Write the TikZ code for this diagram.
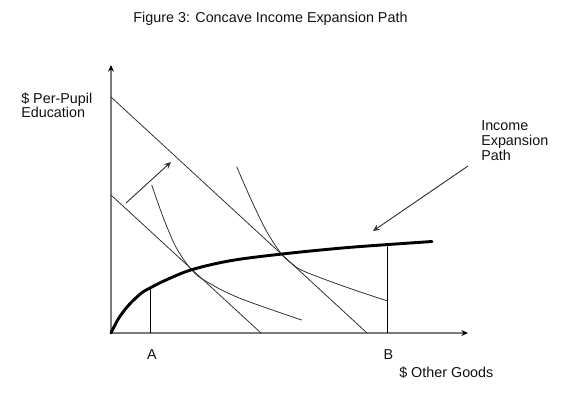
\documentclass[tikz,border=0pt]{standalone}
\usepackage{fontspec}
\setmainfont{Liberation Sans}
\usetikzlibrary{arrows.meta}
\definecolor{Ink}{HTML}{111111}
\definecolor{Axis}{HTML}{7A7A7A}
\definecolor{Guide}{HTML}{333333}

\begin{document}
\begin{tikzpicture}[x=0.2646mm,y=0.2646mm,>={Stealth[length=5pt,width=4.5pt]},
  lbl/.style={font=\fontsize{10.8}{10.5}\selectfont,inner sep=0pt,text=Ink},
  axisline/.style={Axis,line width=1.5pt,-{Stealth[length=5pt,width=4.5pt,color=black]}},
  budget/.style={Guide,line width=0.6pt},
  indiff/.style={Guide,line width=0.6pt},
  expath/.style={black,line width=2.2pt,line cap=round},
  marker/.style={black,line width=0.75pt},
  pointer/.style={->,Guide,line width=0.7pt}]
\useasboundingbox (-111,-77) rectangle (466,333);
% title and axis labels
\node[lbl,anchor=base] (title) at (159.5,310.3) {Figure 3: Concave Income Expansion Path};
\node[lbl,anchor=north west,align=left] (ylabel) at (-90,240.5) {\$ Per-Pupil\\Education};
\node[lbl,anchor=base west] (xlabel) at (288,-44.3) {\$ Other Goods};
\node[lbl,anchor=north west,align=left,font=\fontsize{10.8}{11.6}\selectfont] (pathlabel) at (370,213) {Income\\Expansion\\Path};
% axes
\coordinate (O) at (0,0);
\coordinate (ytip) at (0,268);
\coordinate (xtip) at (357,0);
\draw[axisline] (O) -- (ytip);
\draw[axisline] (O) -- (xtip);
% budget lines
\coordinate (b1top) at (0,138);
\coordinate (b1end) at (150,0);
\coordinate (b2top) at (0,236);
\coordinate (b2end) at (256,0);
\draw[budget] (b1top) -- (b1end);
\draw[budget] (b2top) -- (b2end);
% indifference curves
\draw[indiff] plot[smooth,tension=0.6] coordinates {(40.7,148) (48,127) (56,106) (66,84) (80.7,63) (95.7,51.3) (129,34.7) (190.7,13)};
\draw[indiff] plot[smooth,tension=0.6] coordinates {(125.7,166.3) (134,147) (144,125) (156,101) (170.7,78.7) (182,68.5) (194,61.3) (234,46.3) (275.7,32.3)};
% income expansion path
\draw[expath] plot[smooth,tension=0.55] coordinates {(0,0) (8,15.2) (18,28.2) (30,39.6) (39,45) (55,53) (81,63.4) (120,72.4) (171,79) (230,84.9) (276,88.4) (321,91.5)};
% A and B
\coordinate (Afoot) at (39,0);
\coordinate (Atop) at (39,45);
\coordinate (Bfoot) at (276,0);
\coordinate (Btop) at (276,88.4);
\draw[marker] (Afoot) -- (Atop);
\draw[marker] (Bfoot) -- (Btop);
\node[lbl,anchor=base] (A) at (41,-26.3) {A};
\node[lbl,anchor=base] (B) at (277.3,-26.3) {B};
% arrows
\coordinate (shiftfrom) at (15,130);
\coordinate (shiftto) at (60,171);
\draw[pointer] (shiftfrom) -- (shiftto);
\coordinate (pathfrom) at (357,167);
\coordinate (pathto) at (262,102);
\draw[pointer] (pathfrom) -- (pathto);
\end{tikzpicture}
\end{document}
